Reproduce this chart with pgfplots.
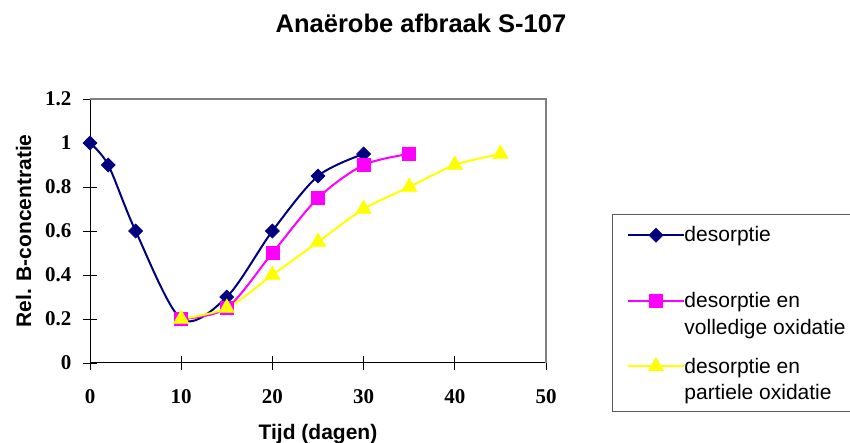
\documentclass[border=0pt]{standalone}
\usepackage{pgfplots}
\pgfplotsset{compat=1.18}
\usepackage{fontspec}
\setmainfont{Liberation Sans}
\newfontfamily\tickfont{Liberation Serif}
\definecolor{navy}{RGB}{0,0,128}
\definecolor{magentaS}{RGB}{255,0,255}
\definecolor{yellowS}{RGB}{255,255,0}
\definecolor{frame}{RGB}{128,128,128}

\begin{document}
\begin{tikzpicture}[x=1pt,y=1pt]
\clip (0,0) rectangle (850,443);
\node[anchor=base, font=\fontsize{25.5}{30}\selectfont\bfseries] at (421,410) {Anaërobe afbraak S-107};
\begin{axis}[
  at={(90pt,80pt)}, anchor=south west,
  scale only axis, width=456pt, height=264pt,
  xmin=0, xmax=50, ymin=0, ymax=1.2,
  xtick={0,10,20,30,40,50},
  ytick={0,0.2,0.4,0.6,0.8,1,1.2},
  axis lines=left,
  axis line style={-, black, line width=1pt},
  tick align=center, major tick length=14pt,
  tick style={black, line width=0.8pt},
  ticklabel style={font=\fontsize{21}{25}\selectfont\tickfont\bfseries},
  /pgf/number format/assume math mode=true,
  xticklabel style={yshift=-16pt},
  yticklabel style={xshift=-8pt},
  xlabel={Tijd (dagen)},
  ylabel={Rel. B-concentratie},
  label style={font=\fontsize{21}{25}\selectfont\bfseries},
  xlabel style={at={(axis description cs:0.5,-0.288)}, anchor=base},
  ylabel style={at={(axis description cs:-0.1458,0.5)}, anchor=center},
  clip=false,
  legend style={at={(1.1447,0.5644)}, anchor=north west,
    draw=frame!70!black, line width=1pt, fill=white,
    inner xsep=15pt, inner ysep=12pt, column sep=0pt, row sep=24pt,
    font=\fontsize{21}{26.7}\selectfont,
    cells={anchor=base west},
    nodes={inner sep=0pt, text height=15.5pt, text depth=26pt}},
  legend image code/.code={
    \draw[mark repeat=2, mark phase=2, #1]
      plot coordinates {(0pt,6.7pt) (27.5pt,6.7pt) (55pt,6.7pt)};},
]
% gray top and right border of the plot area
\draw[frame, line width=1.5pt] (rel axis cs:0,1) -- (rel axis cs:1,1) -- (rel axis cs:1,0);

\addplot[navy, line width=2pt, smooth, mark=square*,
  mark size=5pt, mark options={solid, rotate=45, line width=0.5pt, fill=navy}]
  coordinates {(0,1) (2,0.9) (5,0.6) (10,0.2) (15,0.3) (20,0.6) (25,0.85) (30,0.95)};
\addlegendentry{desorptie}

\addplot[magentaS, line width=2pt, smooth, mark=square*,
  mark size=6.5pt, mark options={solid, line width=0.5pt, fill=magentaS}]
  coordinates {(10,0.2) (15,0.25) (20,0.5) (25,0.75) (30,0.9) (35,0.95)};
\addlegendentry{\begin{tabular}[t]{@{}l@{}}desorptie en\\volledige oxidatie\end{tabular}}

\addplot[yellowS, line width=2pt, smooth, mark=triangle*,
  mark size=9pt, mark options={solid, line width=0.5pt, fill=yellowS}]
  coordinates {(10,0.2) (15,0.25) (20,0.4) (25,0.55) (30,0.7) (35,0.8) (40,0.9) (45,0.95)};
\addlegendentry{\begin{tabular}[t]{@{}l@{}}desorptie en\\partiele oxidatie\end{tabular}}
\end{axis}
\end{tikzpicture}
\end{document}
